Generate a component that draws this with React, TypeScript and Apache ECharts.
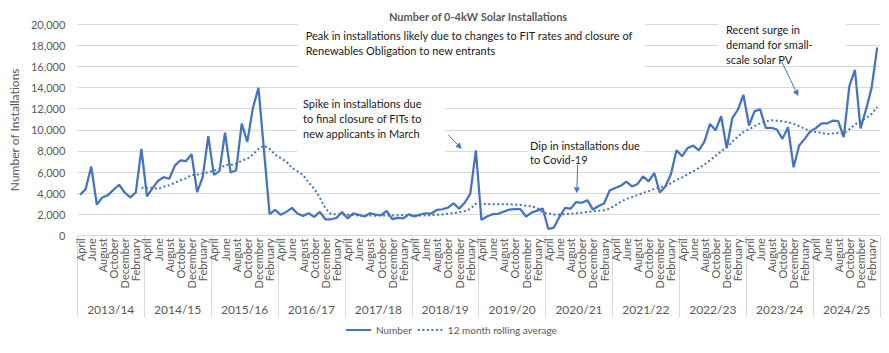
import React, { useEffect, useRef } from "react";
import * as echarts from "echarts";

const months = ["April", "May", "June", "July", "August", "September", "October", "November", "December", "January", "February", "March"];
const years = ["2013/14", "2014/15", "2015/16", "2016/17", "2017/18", "2018/19", "2019/20", "2020/21", "2021/22", "2022/23", "2023/24", "2024/25"];

// Monthly 0-4kW installations, April 2013 .. March 2025
const installations = [
  3840, 4380, 6530, 2920, 3590, 3810, 4320, 4790, 4060, 3590, 4060, 8180,
  3680, 4470, 5170, 5520, 5360, 6600, 7110, 7040, 7680, 4100, 5520, 9400,
  5730, 6080, 9720, 5950, 6170, 10580, 8860, 12060, 13980, 8000, 2000, 2410,
  1940, 2220, 2600, 2060, 1840, 2090, 1750, 2220, 1520, 1520, 1650, 2200,
  1600, 2090, 1940, 1780, 2090, 1970, 1900, 2310, 1530, 1660, 1600, 2000,
  1780, 1970, 2090, 2060, 2400, 2470, 2620, 3020, 2530, 3085, 3950, 8050,
  1470, 1780, 2000, 2030, 2250, 2430, 2470, 2470, 1780, 2150, 2340, 2530,
  600, 730, 1750, 2590, 2530, 3150, 3085, 3330, 2430, 2780, 3020, 4250,
  4480, 4700, 5080, 4630, 4860, 5590, 5110, 5900, 4060, 4630, 5810, 8060,
  7490, 8280, 8500, 8060, 8880, 10560, 9960, 11290, 8280, 11100, 11900, 13300,
  10410, 11775, 11930, 10190, 10190, 10030, 9140, 10250, 6450, 8510, 9140, 9870,
  10160, 10600, 10600, 10860, 10820, 9300, 14150, 15670, 10130, 11930, 14000, 17800,
];

// 12 month rolling average (first 11 months have none)
const rollingAverage = [
  null, null, null, null, null, null, null, null, null, null, null, 4510,
  4490, 4500, 4390, 4600, 4750, 4980, 5220, 5400, 5710, 5750, 5870, 5970,
  6140, 6280, 6660, 6690, 6760, 7090, 7240, 7650, 8180, 8500, 8210, 7630,
  7310, 6990, 6400, 6070, 5710, 5010, 4410, 3590, 2550, 2010, 1990, 1970,
  1940, 1930, 1870, 1850, 1870, 1860, 1870, 1880, 1880, 1890, 1890, 1870,
  1890, 1880, 1890, 1910, 1940, 1980, 2040, 2100, 2180, 2300, 2500, 3000,
  2980, 2960, 2950, 2950, 2940, 2940, 2920, 2880, 2810, 2740, 2600, 2140,
  2070, 1980, 1960, 2010, 2030, 2090, 2140, 2210, 2270, 2320, 2380, 2520,
  2840, 3180, 3450, 3620, 3820, 4020, 4190, 4400, 4540, 4690, 4930, 5240,
  5490, 5790, 6080, 6360, 6700, 7110, 7520, 7970, 8320, 8860, 9360, 9800,
  10040, 10340, 10620, 10800, 10910, 10860, 10800, 10710, 10560, 10340, 10110, 9820,
  9800, 9710, 9590, 9650, 9700, 9640, 10060, 10510, 10820, 11100, 11510, 12170,
];

const yMin = 0;
const yMax = 20000;
const yStep = 2000;

const categoryLabels = years.flatMap(() => months);

const BLUE = "#4472C4";
const GREY = "#595959";
const GRID = "#d9d9d9";
const FONT = "Lato, 'Open Sans', sans-serif";

function arrow(x1: number, y1: number, x2: number, y2: number) {
  const dx = x2 - x1;
  const dy = y2 - y1;
  const len = Math.hypot(dx, dy);
  const ux = dx / len;
  const uy = dy / len;
  const hl = 6;
  const hw = 3;
  const bx = x2 - ux * hl;
  const by = y2 - uy * hl;
  return [
    { type: "line", z: 5, shape: { x1, y1, x2: bx, y2: by }, style: { stroke: BLUE, lineWidth: 1 } },
    {
      type: "polygon",
      z: 5,
      shape: { points: [[x2, y2], [bx - uy * hw, by + ux * hw], [bx + uy * hw, by - ux * hw]] },
      style: { fill: BLUE },
    },
  ];
}

function note(text: string, x: number, y: number, lineHeight: number) {
  return {
    type: "text",
    z: 5,
    x,
    y,
    style: {
      text,
      fill: "#1a1a1a",
      font: `11px ${FONT}`,
      lineHeight,
      textVerticalAlign: "top",
      textAlign: "left",
    },
  };
}

function box(x: number, y: number, w: number, h: number) {
  return { type: "rect", z: 1, shape: { x, y, width: w, height: h }, style: { fill: "#ffffff" } };
}

export default function App() {
  const ref = useRef<HTMLDivElement>(null);

  useEffect(() => {
    document.body.style.margin = "0";
    if (!ref.current) return;
    const chart = echarts.init(ref.current, null, { renderer: "svg" });
    chart.setOption({
      animation: false,
      backgroundColor: "#ffffff",
      textStyle: { fontFamily: FONT },
      title: {
        text: "Number of 0-4kW Solar Installations",
        left: 384,
        top: 6,
        textStyle: { fontSize: 11, fontWeight: "bold", color: GREY, fontFamily: FONT },
      },
      legend: {
        left: 345,
        top: 325,
        padding: 0,
        itemWidth: 25,
        itemHeight: 8,
        itemGap: 5,
        itemStyle: { opacity: 0 },
        textStyle: { fontSize: 10, color: GREY, fontFamily: FONT },
        data: ["Number", "12 month rolling average"],
      },
      grid: { left: 59, right: 9, top: 24.3, bottom: 117.7 },
      xAxis: [
        {
          type: "category",
          data: categoryLabels,
          boundaryGap: true,
          axisLine: { lineStyle: { color: GRID, width: 1 } },
          axisTick: { show: false },
          axisLabel: { interval: 1, rotate: 90, fontSize: 11, color: GREY, margin: 3, fontFamily: FONT },
          splitLine: { show: false },
        },
        {
          type: "category",
          data: years,
          position: "bottom",
          boundaryGap: true,
          axisLine: { show: false },
          axisTick: { show: true, length: 82, interval: 0, lineStyle: { color: GRID, width: 1 } },
          axisLabel: { interval: 0, fontSize: 12, color: GREY, margin: 68, fontFamily: FONT },
          splitLine: { show: false },
        },
      ],
      yAxis: {
        type: "value",
        min: yMin,
        max: yMax,
        interval: yStep,
        name: "Number of Installations",
        nameLocation: "middle",
        nameGap: 42,
        nameTextStyle: { fontSize: 12, color: GREY, fontFamily: FONT },
        axisLine: { show: false },
        axisTick: { show: false },
        axisLabel: {
          fontSize: 11,
          color: GREY,
          margin: 12,
          fontFamily: FONT,
          formatter: (v: number) => v.toLocaleString("en-US"),
        },
        splitLine: { lineStyle: { color: GRID, width: 1 } },
      },
      series: [
        {
          name: "Number",
          type: "line",
          xAxisIndex: 0,
          data: installations,
          symbol: "none",
          lineStyle: { color: BLUE, width: 2.25 },
          itemStyle: { color: BLUE },
          z: 3,
        },
        {
          name: "12 month rolling average",
          type: "line",
          xAxisIndex: 0,
          data: rollingAverage,
          symbol: "none",
          connectNulls: false,
          lineStyle: { color: BLUE, width: 2, type: [2, 2.5] },
          itemStyle: { color: BLUE },
          z: 3,
        },
      ],
      graphic: [
        box(298, 18, 347, 54),
        box(297, 92, 148, 66),
        box(528, 137, 115, 31),
        box(718, 17, 128, 47),
        note("Peak in installations likely due to changes to FIT rates and closure of\nRenewables Obligation to new entrants", 305.7, 28, 15.3),
        note("Spike in installations due\nto final closure of FITs to\nnew applicants in March", 303, 95.5, 15),
        note("Dip in installations due\nto Covid-19", 530, 138, 14.3),
        note("Recent surge in\ndemand for small-\nscale solar PV", 726, 21.8, 15),
        ...arrow(448.3, 135, 461.7, 149),
        ...arrow(577.7, 165, 576.7, 193.3),
        ...arrow(781.7, 61.7, 798.3, 96),
      ],
    });
    return () => chart.dispose();
  }, []);

  return <div ref={ref} style={{ width: 889, height: 353 }} />;
}
